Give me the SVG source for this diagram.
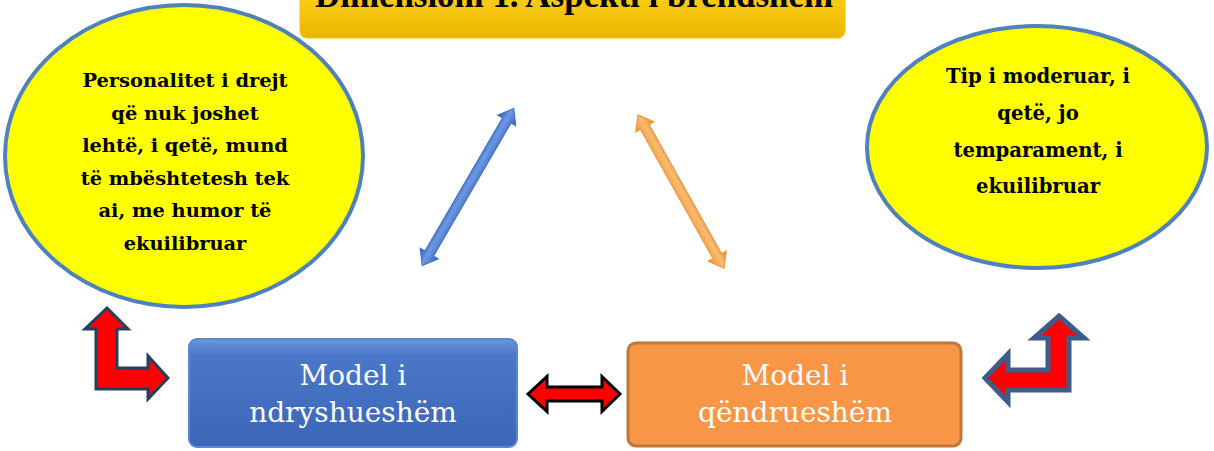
<svg xmlns="http://www.w3.org/2000/svg" width="1214" height="451" viewBox="0 0 1214 451">
  <style>
    .ell { fill: #FFFF00; stroke: #4F81BD; stroke-width: 4; }
    .etext { font-family: "DejaVu Serif", "Liberation Serif", serif; font-weight: bold; fill: #000; text-anchor: middle; }
    .btext { font-family: "DejaVu Serif", "Liberation Serif", serif; font-size: 28px; fill: #FFFFFF; text-anchor: middle; }
    .title { font-family: "Liberation Serif", serif; font-weight: bold; font-size: 35px; fill: #000; text-anchor: middle; }
    .redarrow { fill: #FF0000; }
  </style>
  <defs>
    <linearGradient id="gGold" x1="0" y1="0" x2="0" y2="1">
      <stop offset="0" stop-color="#FFD21A"/>
      <stop offset="1" stop-color="#E9B500"/>
    </linearGradient>
    <linearGradient id="gBlue" x1="0" y1="0" x2="0" y2="1">
      <stop offset="0" stop-color="#6A95DE"/>
      <stop offset="0.15" stop-color="#4A77C8"/>
      <stop offset="1" stop-color="#3B66B8"/>
    </linearGradient>
    <linearGradient id="gBlueArrow" x1="0" y1="0" x2="0" y2="1">
      <stop offset="0" stop-color="#2A58B0"/>
      <stop offset="0.45" stop-color="#6E98E2"/>
      <stop offset="1" stop-color="#3464C0"/>
    </linearGradient>
    <linearGradient id="gOrangeArrow" x1="0" y1="0" x2="0" y2="1">
      <stop offset="0" stop-color="#E5821E"/>
      <stop offset="0.45" stop-color="#F9BC70"/>
      <stop offset="1" stop-color="#EE9432"/>
    </linearGradient>
  </defs>

  <g id="node-title">
    <rect x="300" y="-12" width="545" height="50" rx="7" fill="url(#gGold)" stroke="#F3C400" stroke-width="1"/>
    <text class="title" x="574" y="7" textLength="518" lengthAdjust="spacingAndGlyphs">Dimensioni 1. Aspekti i brendshëm</text>
  </g>

  <g id="node-left-ellipse">
    <ellipse class="ell" cx="184" cy="156" rx="179" ry="151"/>
    <text class="etext" font-size="19.4" x="185" y="87">Personalitet i drejt</text>
    <text class="etext" font-size="19.4" x="185" y="119.5">që nuk joshet</text>
    <text class="etext" font-size="19.4" x="185" y="152">lehtë, i qetë, mund</text>
    <text class="etext" font-size="19.4" x="185" y="184.5">të mbështetesh tek</text>
    <text class="etext" font-size="19.4" x="185" y="217">ai, me humor të</text>
    <text class="etext" font-size="19.4" x="185" y="249.5">ekuilibruar</text>
  </g>

  <g id="node-right-ellipse">
    <ellipse class="ell" cx="1037" cy="147" rx="170" ry="121"/>
    <text class="etext" font-size="19.6" x="1038" y="83">Tip i moderuar, i</text>
    <text class="etext" font-size="19.6" x="1038" y="120">qetë, jo</text>
    <text class="etext" font-size="19.6" x="1038" y="157">temparament, i</text>
    <text class="etext" font-size="19.6" x="1038" y="193">ekuilibruar</text>
  </g>

  <g id="node-model-ndryshueshem">
    <rect x="189" y="339" width="328" height="108" rx="8" fill="url(#gBlue)" stroke="#5B86D2" stroke-width="2"/>
    <text class="btext" x="353" y="385">Model i</text>
    <text class="btext" x="353" y="422">ndryshueshëm</text>
  </g>

  <g id="node-model-qendrueshem">
    <rect x="628" y="343" width="333" height="103" rx="8" fill="#F79646" stroke="#C47634" stroke-width="3"/>
    <text class="btext" x="795" y="385">Model i</text>
    <text class="btext" x="795" y="422">qëndrueshëm</text>
  </g>

  <g id="connectors">
    <!-- blue diagonal double arrow -->
    <polygon transform="translate(468,187) rotate(-59.8)" fill="url(#gBlueArrow)" stroke="#3F6FC4" stroke-width="1"
      points="-91,0 -77,-10.5 -77,-5 77,-5 77,-10.5 91,0 77,10.5 77,5 -77,5 -77,10.5"/>
    <!-- orange diagonal double arrow -->
    <polygon transform="translate(681,191.5) rotate(60.7)" fill="url(#gOrangeArrow)" stroke="#EC9840" stroke-width="1"
      points="-88,0 -74,-10.5 -74,-5 74,-5 74,-10.5 88,0 74,10.5 74,5 -74,5 -74,10.5"/>
    <!-- middle red double arrow -->
    <polygon class="redarrow" stroke="#000000" stroke-width="3" stroke-linejoin="miter"
      points="528,394 547,376.5 547,387 602,387 602,376.5 620,394 602,411.5 602,401 547,401 547,411.5"/>
    <!-- left bent arrow -->
    <polygon class="redarrow" stroke="#243F60" stroke-width="3" stroke-linejoin="miter"
      points="107,308 128,329 117,329 117,368 148,368 148,356 168,378 148,399 148,389 96,389 96,329 85,329"/>
    <!-- right bent arrow -->
    <polygon class="redarrow" stroke="#3D5C8A" stroke-width="5" stroke-linejoin="miter"
      points="1059,316 1084,338 1069,338 1069,390 1008,390 1008,402 985,378 1008,354 1008,370 1048,370 1048,338 1034,338"/>
  </g>
</svg>
